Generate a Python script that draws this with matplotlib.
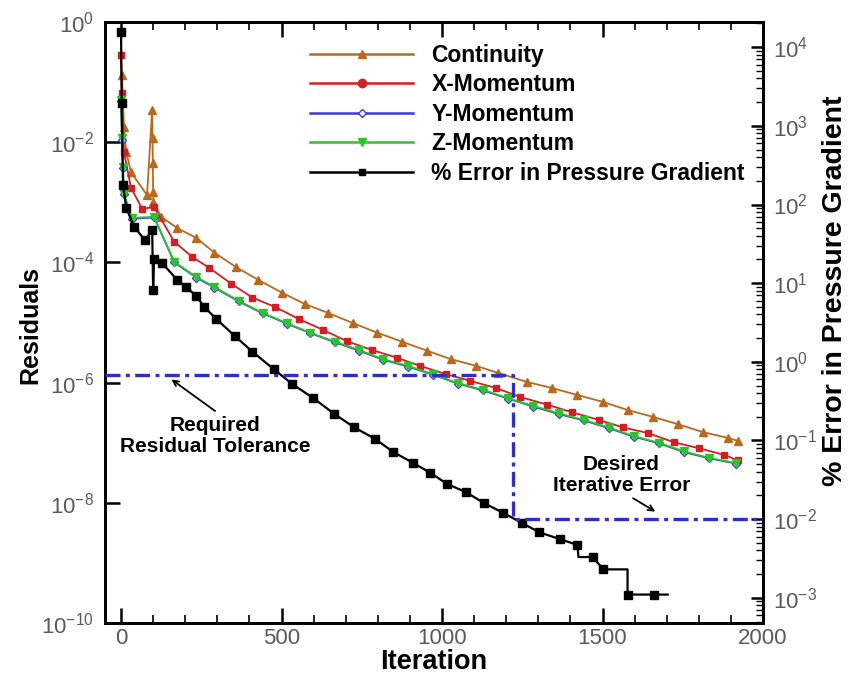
import matplotlib
matplotlib.use('Agg')
import matplotlib.pyplot as plt
from matplotlib.lines import Line2D
from matplotlib.ticker import FixedLocator, MultipleLocator, LogLocator, LogFormatterMathtext, NullLocator, NullFormatter
import numpy as np

plt.rcParams['font.family'] = ['Liberation Sans', 'DejaVu Sans']
plt.rcParams['mathtext.fontset'] = 'custom'
plt.rcParams['mathtext.rm'] = 'Liberation Sans'

# continuity residual
cont_it = [3, 9, 16, 31, 81, 97, 98, 99, 100, 101, 125, 175, 234, 291, 359, 428, 503, 572, 644, 722,
           797, 875, 953, 1028, 1106, 1175, 1266, 1344, 1422, 1500, 1578, 1656, 1734, 1813, 1891, 1922]
cont_res = [1.32e-1, 1.78e-2, 6.9e-3, 3.16e-3, 1.32e-3, 3.47e-2, 1.17e-2, 4.47e-3, 1.48e-3, 1.0e-3,
            5.75e-4, 3.72e-4, 2.57e-4, 1.45e-4, 8.3e-5, 5.1e-5, 3.1e-5, 2.04e-5, 1.45e-5, 9.8e-6,
            6.8e-6, 4.8e-6, 3.4e-6, 2.45e-6, 1.9e-6, 1.45e-6, 1.02e-6, 8.1e-7, 6.2e-7, 4.8e-7,
            3.5e-7, 2.7e-7, 2.04e-7, 1.5e-7, 1.2e-7, 1.07e-7]

# x momentum
xmom_it = [0, 3, 9, 31, 66, 103, 166, 222, 275, 344, 409, 481, 553, 628, 703, 781, 859, 931, 1013,
           1088, 1169, 1244, 1328, 1406, 1488, 1563, 1641, 1722, 1800, 1878, 1922]
xmom_res = [2.8e-1, 6.6e-2, 6.9e-3, 1.74e-3, 7.8e-4, 8.3e-4, 2.2e-4, 1.23e-4, 8.1e-5, 4.4e-5, 2.6e-5,
            1.8e-5, 1.15e-5, 7.6e-6, 4.9e-6, 3.5e-6, 2.6e-6, 1.9e-6, 1.38e-6, 1.07e-6, 8.1e-7,
            5.75e-7, 4.3e-7, 3.2e-7, 2.4e-7, 1.8e-7, 1.45e-7, 1.02e-7, 8.1e-8, 6.3e-8, 5.1e-8]

# y and z momentum (nearly on top of each other)
zmom_it = [0, 3, 6, 9, 34, 103, 166, 234, 291, 366, 441, 516, 588, 666, 741, 816, 894, 972, 1050,
           1128, 1206, 1284, 1363, 1441, 1519, 1597, 1675, 1753, 1831, 1916]
ymom_res = [4.8e-2, 1.1e-2, 3.7e-3, 1.35e-3, 5.3e-4, 5.6e-4, 1.0e-4, 5.6e-5, 3.8e-5, 2.25e-5, 1.42e-5,
            9.6e-6, 6.7e-6, 4.7e-6, 3.4e-6, 2.4e-6, 1.85e-6, 1.35e-6, 9.6e-7, 7.4e-7, 5.4e-7,
            4.0e-7, 3.0e-7, 2.35e-7, 1.75e-7, 1.26e-7, 9.8e-8, 7.0e-8, 5.5e-8, 4.5e-8]
zmom_res = [5.0e-2, 1.17e-2, 3.9e-3, 1.4e-3, 5.5e-4, 5.75e-4, 1.02e-4, 5.75e-5, 3.9e-5, 2.3e-5, 1.45e-5,
            9.8e-6, 6.8e-6, 4.8e-6, 3.5e-6, 2.45e-6, 1.9e-6, 1.38e-6, 9.8e-7, 7.6e-7, 5.5e-7,
            4.1e-7, 3.1e-7, 2.4e-7, 1.8e-7, 1.29e-7, 1.0e-7, 7.2e-8, 5.6e-8, 4.6e-8]

# % error in pressure gradient (right axis), staircase corners included
perr_it = [0, 2, 6, 16, 41, 75, 97, 100, 103, 128, 175, 203, 234, 259, 297, 356, 409, 475, 534, 597,
           663, 725, 791, 847, 909, 963, 1016, 1075, 1131, 1191, 1250, 1303, 1366, 1422, 1425, 1469,
           1503, 1578, 1578, 1659, 1703]
perr = [1.55e4, 1.95e3, 178, 91, 52, 35, 48, 8.1, 20, 18, 11, 8.9, 6.9, 5.0, 3.5, 2.1, 1.35, 0.81,
        0.52, 0.35, 0.22, 0.148, 0.105, 0.072, 0.052, 0.039, 0.028, 0.022, 0.016, 0.012, 0.0089,
        0.0068, 0.0056, 0.0047, 0.0033, 0.0033, 0.0023, 0.0023, 0.0011, 0.0011, 0.0011]
perr_corners = [34, 37, 40]

residual_tol = 1.35e-6
error_tol = 1e-2
tol_iter = 1222

left_lim = (1e-10, 1.0)
right_lim = (10 ** -3.32, 10 ** 4.32)
x_lim = (-50, 2000)

c_brown = '#B8691E'
c_red = '#D21E24'
c_blue = '#3A3AD0'
c_green = '#2CC42C'
c_tol = '#3030C0'

fig = plt.figure(figsize=(8.51, 6.77), dpi=100)
ax = fig.add_axes([105 / 851, 1 - 623 / 677, 658 / 851, 601 / 677])
ax2 = ax.twinx()

ax.set_yscale('log')
ax2.set_yscale('log')
ax.set_xlim(*x_lim)
ax.set_ylim(*left_lim)
ax2.set_ylim(*right_lim)

ax.plot(cont_it, cont_res, color=c_brown, lw=1.3, marker='^', ms=5.5, mfc=c_brown, mec=c_brown)
ax.plot(xmom_it, xmom_res, color=c_red, lw=1.3, marker='s', ms=5, mfc=c_red, mec=c_red)
ax.plot(zmom_it, ymom_res, color=c_blue, lw=1.3, marker='D', ms=4.5, mfc='white', mec=c_blue)
ax.plot(zmom_it, zmom_res, color=c_green, lw=1.3, marker='v', ms=5.5, mfc=c_green, mec=c_green)

mk = [i for i in range(len(perr_it)) if i not in perr_corners]
ax2.plot(perr_it, perr, color='black', lw=1.6, marker='s', ms=5.5, markevery=mk)


# residual tolerance mapped onto right axis
def to_right(v):
    lo, hi = np.log10(left_lim)
    lo2, hi2 = np.log10(right_lim)
    return 10 ** (lo2 + (np.log10(v) - lo) / (hi - lo) * (hi2 - lo2))


t2 = to_right(residual_tol)
ax2.plot([x_lim[0], tol_iter, tol_iter, x_lim[1]], [t2, t2, error_tol, error_tol],
         color=c_tol, lw=2.4, ls=(0, (4.5, 1.6, 1.2, 1.6)), zorder=5)

ax.text(294, 10 ** -6.89, 'Required\nResidual Tolerance', ha='center', va='center',
        fontsize=15, fontweight='bold', linespacing=1.1)
ax.annotate('', xy=(150, 10 ** -5.92), xytext=(300, 10 ** -6.5),
            arrowprops=dict(arrowstyle='->', lw=1.3, color='black'))
ax.text(1559, 10 ** -7.54, 'Desired\nIterative Error', ha='center', va='center',
        fontsize=15, fontweight='bold', linespacing=1.1)
ax.annotate('', xy=(1672, 10 ** -8.17), xytext=(1588, 10 ** -7.90),
            arrowprops=dict(arrowstyle='->', lw=1.3, color='black'))

# ticks
tick_col = '#5a5a5a'
ax.xaxis.set_major_locator(MultipleLocator(500))
ax.xaxis.set_minor_locator(MultipleLocator(100))
ax.yaxis.set_major_locator(FixedLocator([1e0, 1e-2, 1e-4, 1e-6, 1e-8, 1e-10]))
ax.yaxis.set_major_formatter(LogFormatterMathtext())
ax.yaxis.set_minor_locator(NullLocator())
ax.tick_params(axis='x', which='both', direction='in', top=True, bottom=True)
ax.tick_params(axis='x', which='major', length=11, width=1.8, pad=3.5, labelsize=16, labelcolor=tick_col)
ax.tick_params(axis='x', which='minor', length=6, width=1.2)
ax.tick_params(axis='y', which='major', direction='in', left=True, right=False, length=11, width=1.8,
               pad=8, labelsize=16, labelcolor=tick_col)

ax2.yaxis.set_major_locator(FixedLocator([10.0 ** k for k in range(-3, 5)]))
ax2.yaxis.set_major_formatter(LogFormatterMathtext())
ax2.yaxis.set_minor_locator(LogLocator(base=10, subs=np.arange(2, 10), numticks=20))
ax2.yaxis.set_minor_formatter(NullFormatter())
ax2.tick_params(axis='y', which='major', direction='in', length=9, width=1.8, pad=7,
                labelsize=16, labelcolor=tick_col)
ax2.tick_params(axis='y', which='minor', direction='in', length=5, width=1.0)

for a in (ax, ax2):
    for s in a.spines.values():
        s.set_linewidth(2.0)

fig.text(30 / 851, 1 - 325 / 677, 'Residuals', rotation=90, ha='center', va='center',
         fontsize=18, fontweight='bold')
fig.text(434 / 851, 1 - 662 / 677, 'Iteration', ha='center', va='center',
         fontsize=19.5, fontweight='bold')
fig.text(835 / 851, 1 - 291 / 677, '% Error in Pressure Gradient', rotation=90, ha='center',
         va='center', fontsize=20.5, fontweight='bold')

handles = [
    Line2D([], [], color=c_brown, lw=1.8, marker='^', ms=6, mfc=c_brown, mec=c_brown),
    Line2D([], [], color=c_red, lw=1.8, marker='o', ms=6, mfc=c_red, mec=c_red),
    Line2D([], [], color=c_blue, lw=1.8, marker='D', ms=4.5, mfc='white', mec=c_blue),
    Line2D([], [], color=c_green, lw=1.8, marker='v', ms=6, mfc=c_green, mec=c_green),
    Line2D([], [], color='black', lw=1.8, marker='s', ms=5, mfc='black', mec='black'),
]
labels = ['Continuity', 'X-Momentum', 'Y-Momentum', 'Z-Momentum', '% Error in Pressure Gradient']
leg = ax2.legend(handles, labels, loc='upper left', bbox_to_anchor=(310 / 851, 1 - 44 / 677),
                 bbox_transform=fig.transFigure, frameon=False,
                 prop={'weight': 'bold', 'size': 16.5}, handlelength=4.5, handletextpad=0.8,
                 labelspacing=0.28, borderpad=0, borderaxespad=0)

fig.savefig('out.png', dpi=100)
